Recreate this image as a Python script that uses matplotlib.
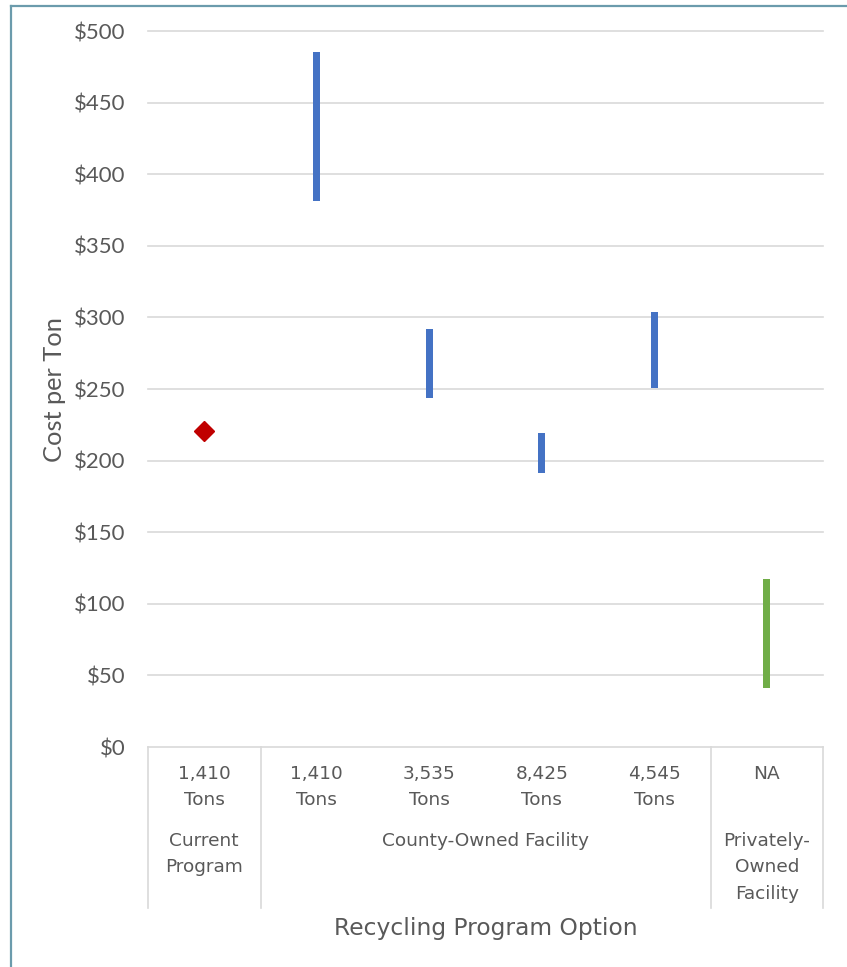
import matplotlib
matplotlib.use("Agg")
import matplotlib.pyplot as plt
from matplotlib.lines import Line2D
from matplotlib.transforms import blended_transform_factory

# ---- data ----
tons_labels = ["1,410\nTons", "1,410\nTons", "3,535\nTons", "8,425\nTons", "4,545\nTons", "NA"]
groups = ["Current\nProgram", "County-Owned Facility", "Privately-\nOwned\nFacility"]
group_spans = [(0, 0), (1, 4), (5, 5)]
current_cost = 221
county_low = [381, 244, 191, 251]
county_high = [485, 292, 219, 304]
private_low = [41]
private_high = [117]
yticks = [0, 50, 100, 150, 200, 250, 300, 350, 400, 450, 500]
ytick_labels = ["$" + str(v) for v in yticks]

W, H = 847, 967
fig = plt.figure(figsize=(W / 100, H / 100), dpi=100)
L, R, T, B = 148, 823, 31, 747
ax = fig.add_axes([L / W, 1 - B / H, (R - L) / W, (B - T) / H])

txt = "#595959"
grid = "#d9d9d9"

ax.set_xlim(-0.5, 5.5)
ax.set_ylim(0, 500)
ax.set_yticks(yticks)
ax.set_yticklabels(ytick_labels, fontsize=16, color=txt, family="Lato")
ax.tick_params(axis="y", length=0, pad=16)
ax.set_xticks([])
for s in ax.spines.values():
    s.set_visible(False)
ax.grid(axis="y", color=grid, linewidth=1.2)
for gl in ax.get_ygridlines():
    gl.set_clip_on(False)
ax.set_axisbelow(True)

bw = 0.058
ax.plot([0], [current_cost], marker="D", color="#C00000", markersize=10, linestyle="none", zorder=3)
xs = [1, 2, 3, 4]
ax.bar(xs, [h - l for h, l in zip(county_high, county_low)], bottom=county_low, width=bw, color="#4472C4", zorder=3)
ax.bar([5], [h - l for h, l in zip(private_high, private_low)], bottom=private_low, width=bw, color="#70AD47", zorder=3)

tr = blended_transform_factory(ax.transData, ax.transAxes)
def ay(py):
    return (B - py) / (B - T)

for i, lab in enumerate(tons_labels):
    ax.text(i, ay(765), lab, transform=tr, ha="center", va="top", fontsize=13.3, color=txt,
            family="DejaVu Sans", linespacing=1.6)
for g, (a, b) in zip(groups, group_spans):
    ax.text((a + b) / 2, ay(832), g, transform=tr, ha="center", va="top", fontsize=13.3, color=txt,
            family="DejaVu Sans", linespacing=1.6)
for xv in [-0.5, 0.5, 4.5, 5.5]:
    ax.add_line(Line2D([xv, xv], [0, ay(908)], transform=tr, color=grid, linewidth=1.2, clip_on=False))

fig.text((L + R) / 2 / W - 0.0, 1 - 929 / H, "Recycling Program Option", ha="center", va="center",
         fontsize=16.8, color=txt, family="DejaVu Sans")
fig.text(55 / W, 1 - 390 / H, "Cost per Ton", rotation=90, ha="center", va="center",
         fontsize=18.3, color=txt, family="Lato")

# outer frame
fc = "#6b9bac"
fig.add_artist(Line2D([11 / W, 11 / W], [0, 1 - 6 / H], transform=fig.transFigure, color=fc, linewidth=1.6))
fig.add_artist(Line2D([11 / W, 1], [1 - 6 / H, 1 - 6 / H], transform=fig.transFigure, color=fc, linewidth=1.6))

fig.savefig("out.png", dpi=100)
